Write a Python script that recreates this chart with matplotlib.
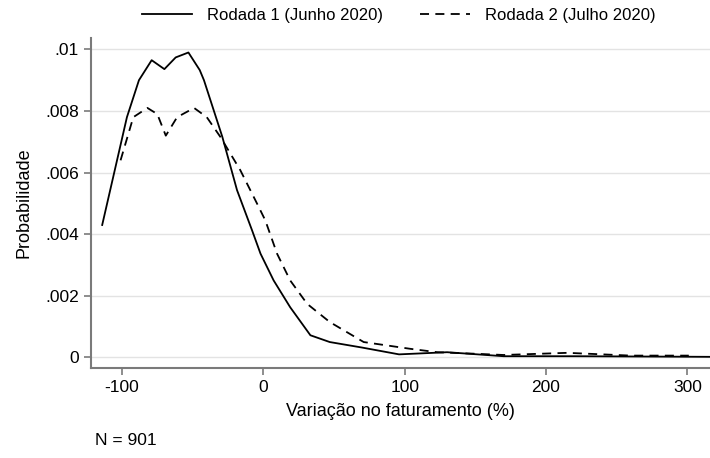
import numpy as np
import matplotlib.pyplot as plt

plt.rcParams["font.family"] = ["Liberation Sans", "DejaVu Sans"]

# Rodada 1 (Junho 2020)
x_r1 = [-114, -105, -96.5, -88, -79, -70, -62, -53, -45, -42, -29, -18.6, -8, -2, 7.3,
        19, 33.3, 47, 70, 96, 130, 170, 220, 270, 316]
y_r1 = [0.0043, 0.0061, 0.0078, 0.0090, 0.00965, 0.00936, 0.00974, 0.0099, 0.00933, 0.0090,
        0.00716, 0.00543, 0.00413, 0.00337, 0.0025, 0.00163, 0.00072, 0.0005, 0.00032,
        0.0001, 0.00017, 0.00004, 0.00004, 0.00003, 0.00002]
# Rodada 2 (Julho 2020)
x_r2 = [-101, -92, -82, -75, -69, -61, -49, -40, -30.4, -16.3, -4.5, 1.4, 9.7, 19, 31, 47, 71,
        104, 123, 150, 170, 215, 260, 301]
y_r2 = [0.0064, 0.0078, 0.0081, 0.0079, 0.0072, 0.0078, 0.0081, 0.0078, 0.00716, 0.00608,
        0.0050, 0.00445, 0.00337, 0.0025, 0.00174, 0.00115, 0.0005, 0.00028, 0.00017, 0.00012,
        0.00008, 0.00015, 0.00006, 0.00006]

yticks = [0, 0.002, 0.004, 0.006, 0.008, 0.01]
ylabels = ["0", ".002", ".004", ".006", ".008", ".01"]
xticks = [-100, 0, 100, 200, 300]

fig = plt.figure(figsize=(7.1, 4.58), dpi=100)
ax = fig.add_axes([0.128, 0.196, 0.872, 0.721])

l1, = ax.plot(x_r1, y_r1, color="black", lw=1.3, label="Rodada 1 (Junho 2020)")
l2, = ax.plot(x_r2, y_r2, color="black", lw=1.3, ls=(0, (5, 3.5)), label="Rodada 2 (Julho 2020)")

ax.set_xlim(-122, 316)
ax.set_ylim(-0.00035, 0.01037)
ax.set_xticks(xticks)
ax.set_xticklabels([str(t) for t in xticks])
ax.set_yticks(yticks)
ax.set_yticklabels(ylabels)
ax.grid(axis="y", color="#e3e3e3", lw=1)
ax.set_axisbelow(True)
for s in ["top", "right"]:
    ax.spines[s].set_visible(False)
for s in ["left", "bottom"]:
    ax.spines[s].set_color("#7a7a7a")
    ax.spines[s].set_linewidth(1.5)
ax.tick_params(colors="#7a7a7a", labelcolor="black", labelsize=12.5, length=5, width=1.2)
ax.set_ylabel("Probabilidade", fontsize=13, labelpad=9)
ax.set_xlabel("Variação no faturamento (%)", fontsize=13, labelpad=6)

fig.legend(handles=[l1, l2], loc="center", bbox_to_anchor=(0.562, 0.967), ncol=2,
           frameon=False, fontsize=12, handlelength=3, columnspacing=2.2, handletextpad=0.9)
fig.text(0.134, 0.039, "N = 901", fontsize=12.5, va="center")

fig.savefig("out.png", dpi=100)
